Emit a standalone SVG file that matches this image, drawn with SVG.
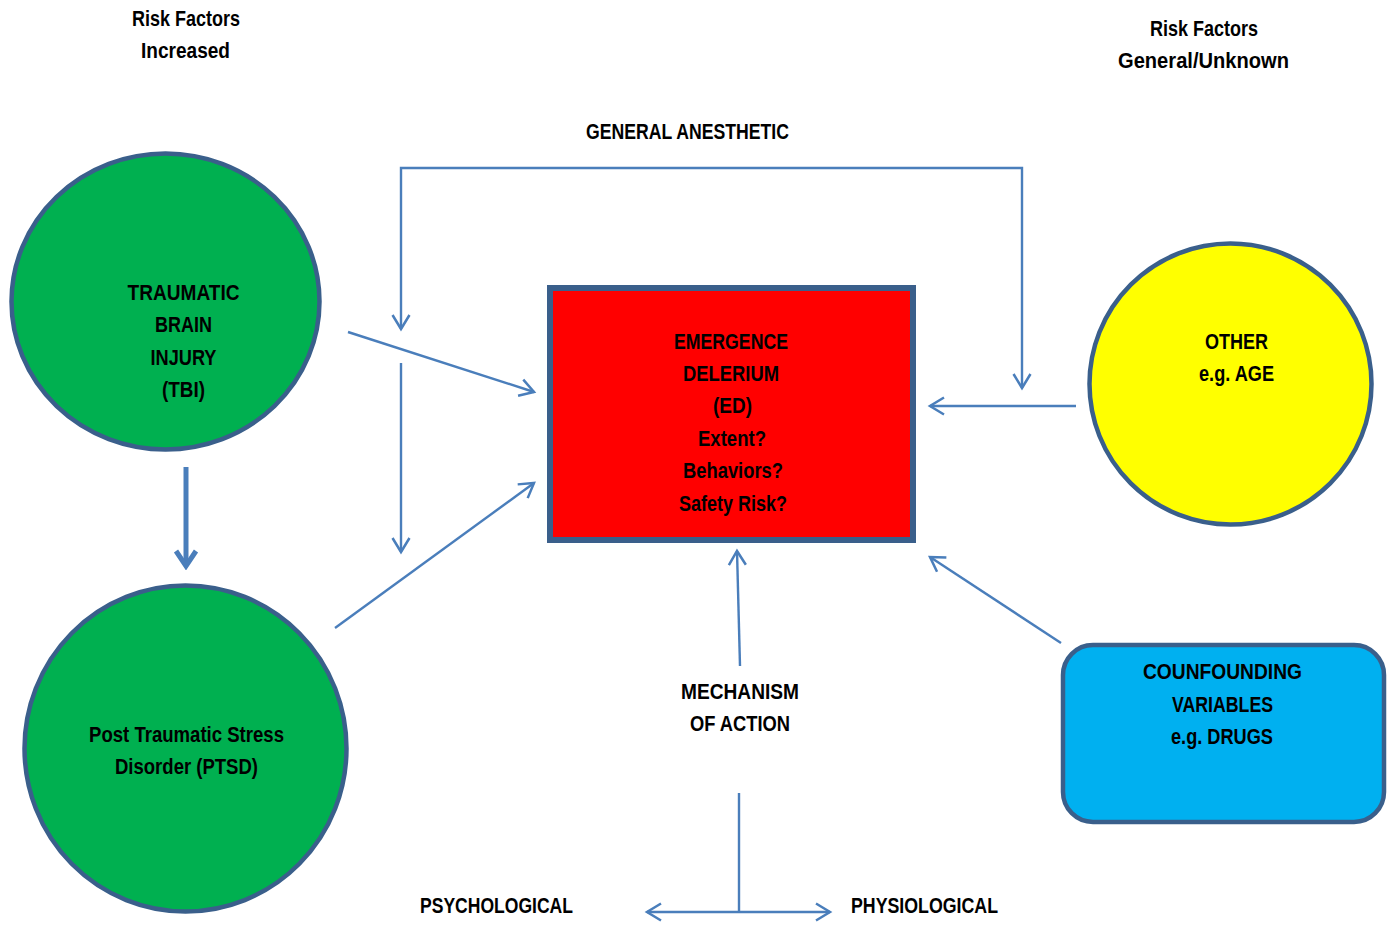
<svg xmlns="http://www.w3.org/2000/svg" width="1391" height="925" viewBox="0 0 1391 925">
<defs>
<style>
text{font-family:"Liberation Sans",Arial,sans-serif;font-weight:bold;font-size:22.5px;fill:#000;text-anchor:middle}
.node{stroke:#3A5F8B;stroke-width:4.5}
.conn{fill:none;stroke:#4A7EBB;stroke-width:2.4}
.thick{fill:none;stroke:#4A7EBB;stroke-width:5}
</style>
<marker id="ah" viewBox="-16 -10 20 20" markerWidth="20" markerHeight="20" markerUnits="userSpaceOnUse" refX="0" refY="0" orient="auto-start-reverse">
<path d="M-14,-8.5 L0,0 L-14,8.5" fill="none" stroke="#4A7EBB" stroke-width="2.5"/>
</marker>
<marker id="ahT" viewBox="-22 -14 26 28" markerWidth="26" markerHeight="28" markerUnits="userSpaceOnUse" refX="0" refY="0" orient="auto">
<path d="M-15,-10 L0,0 L-15,10" fill="none" stroke="#4A7EBB" stroke-width="5" stroke-linejoin="miter"/>
</marker>
</defs>
<rect width="1391" height="925" fill="#fff"/>

<g id="labels">
<text x="186" y="26" textLength="108" lengthAdjust="spacingAndGlyphs">Risk Factors</text>
<text x="185.5" y="58" textLength="89" lengthAdjust="spacingAndGlyphs">Increased</text>
<text x="1204" y="36" textLength="108" lengthAdjust="spacingAndGlyphs">Risk Factors</text>
<text x="1203.5" y="68" textLength="171" lengthAdjust="spacingAndGlyphs">General/Unknown</text>
<text x="687.5" y="139" textLength="203" lengthAdjust="spacingAndGlyphs">GENERAL ANESTHETIC</text>
<text x="496.5" y="913" textLength="153" lengthAdjust="spacingAndGlyphs">PSYCHOLOGICAL</text>
<text x="924.5" y="913" textLength="147" lengthAdjust="spacingAndGlyphs">PHYSIOLOGICAL</text>
</g>

<g id="connectors">
<polyline class="conn" points="401,329 401,168 1022,168 1022,388" marker-start="url(#ah)" marker-end="url(#ah)"/>
<line class="conn" x1="348" y1="332" x2="534" y2="392" marker-end="url(#ah)"/>
<line class="conn" x1="401" y1="363" x2="401" y2="552" marker-end="url(#ah)"/>
<line class="conn" x1="335" y1="628" x2="534" y2="483" marker-end="url(#ah)"/>
<line class="thick" x1="186" y1="467" x2="186" y2="566" marker-end="url(#ahT)"/>
<line class="conn" x1="1076" y1="406" x2="930" y2="406" marker-end="url(#ah)"/>
<line class="conn" x1="1061" y1="643" x2="930" y2="557" marker-end="url(#ah)"/>
<line class="conn" x1="740" y1="666" x2="737" y2="551" marker-end="url(#ah)"/>
<line class="conn" x1="739" y1="793" x2="739" y2="912"/>
<line class="conn" x1="647" y1="912" x2="830" y2="912" marker-start="url(#ah)" marker-end="url(#ah)"/>
</g>

<g id="tbi">
<ellipse class="node" cx="165.5" cy="301.5" rx="154" ry="148" fill="#00B050"/>
<text x="183.5" y="300" textLength="112" lengthAdjust="spacingAndGlyphs">TRAUMATIC</text>
<text x="183.5" y="332" textLength="57" lengthAdjust="spacingAndGlyphs">BRAIN</text>
<text x="183.5" y="365" textLength="66" lengthAdjust="spacingAndGlyphs">INJURY</text>
<text x="183.5" y="397" textLength="43" lengthAdjust="spacingAndGlyphs">(TBI)</text>
</g>

<g id="ptsd">
<ellipse class="node" cx="185.5" cy="748.5" rx="161" ry="163" fill="#00B050"/>
<text x="186.5" y="742" textLength="195" lengthAdjust="spacingAndGlyphs">Post Traumatic Stress</text>
<text x="186.5" y="774" textLength="143" lengthAdjust="spacingAndGlyphs">Disorder (PTSD)</text>
</g>

<g id="ed">
<rect x="550" y="288" width="363" height="252" fill="#FF0000" stroke="#3A5F8B" stroke-width="6"/>
<text x="731" y="349" textLength="114" lengthAdjust="spacingAndGlyphs">EMERGENCE</text>
<text x="731" y="381" textLength="96" lengthAdjust="spacingAndGlyphs">DELERIUM</text>
<text x="732.5" y="413" textLength="39" lengthAdjust="spacingAndGlyphs">(ED)</text>
<text x="732" y="446" textLength="68" lengthAdjust="spacingAndGlyphs">Extent?</text>
<text x="733" y="478" textLength="100" lengthAdjust="spacingAndGlyphs">Behaviors?</text>
<text x="733" y="511" textLength="108" lengthAdjust="spacingAndGlyphs">Safety Risk?</text>
</g>

<g id="other">
<ellipse class="node" cx="1230.5" cy="384" rx="141" ry="140.5" fill="#FFFF00"/>
<text x="1236.5" y="349" textLength="63" lengthAdjust="spacingAndGlyphs">OTHER</text>
<text x="1236.5" y="381" textLength="75" lengthAdjust="spacingAndGlyphs">e.g. AGE</text>
</g>

<g id="confounding">
<rect class="node" x="1063" y="645" width="321" height="177" rx="30" ry="30" fill="#00B0F0"/>
<text x="1222.5" y="679" textLength="159" lengthAdjust="spacingAndGlyphs">COUNFOUNDING</text>
<text x="1222.5" y="712" textLength="101" lengthAdjust="spacingAndGlyphs">VARIABLES</text>
<text x="1222" y="744" textLength="102" lengthAdjust="spacingAndGlyphs">e.g. DRUGS</text>
</g>

<g id="mechanism">
<text x="740" y="699" textLength="118" lengthAdjust="spacingAndGlyphs">MECHANISM</text>
<text x="740" y="731" textLength="100" lengthAdjust="spacingAndGlyphs">OF ACTION</text>
</g>
</svg>
